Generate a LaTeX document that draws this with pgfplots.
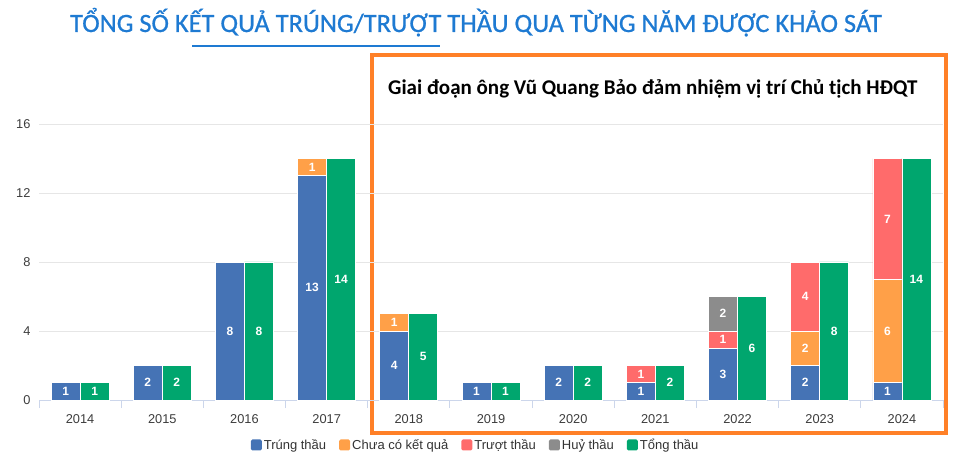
\documentclass[border=0pt]{standalone}
\usepackage{pgfplots}
\pgfplotsset{compat=1.18}
\usepackage{fontspec}
\setmainfont{Liberation Sans}
\newfontfamily\carlito{Carlito}
\newfontfamily\carlitotitle[FakeBold=0.8]{Carlito}
\definecolor{cblue}{RGB}{69,115,181}
\definecolor{corange}{RGB}{255,160,72}
\definecolor{cred}{RGB}{255,107,107}
\definecolor{cgray}{RGB}{140,140,140}
\definecolor{cgreen}{RGB}{0,166,110}
\definecolor{ctitle}{RGB}{30,122,210}
\definecolor{cbox}{RGB}{255,128,39}
\definecolor{cgrid}{RGB}{230,230,230}
\definecolor{caxis}{RGB}{204,214,235}
\definecolor{ctext}{RGB}{60,60,60}
\begin{document}
\begin{tikzpicture}
\useasboundingbox (0,0) rectangle (956pt,469pt);
% titles
\node[anchor=base, text=ctitle, font=\carlitotitle\fontsize{26.4}{28}\selectfont, inner sep=0pt] at (476pt,437pt) {TỔNG SỐ KẾT QUẢ TRÚNG/TRƯỢT THẦU QUA TỪNG NĂM ĐƯỢC KHẢO SÁT};
\draw[ctitle, line width=2.2pt] (192pt,423pt) -- (440pt,423pt);
\draw[cbox, line width=4pt] (372pt,36pt) rectangle (946pt,414pt);
\node[anchor=base west, font=\carlito\bfseries\fontsize{21}{23}\selectfont, inner sep=0pt] at (388pt,374pt) {Giai đoạn ông Vũ Quang Bảo đảm nhiệm vị trí Chủ tịch HĐQT};
\begin{axis}[
  at={(39pt,69pt)}, anchor=south west,
  scale only axis, width=904pt, height=276pt,
  xmin=-0.5, xmax=10.5, ymin=0, ymax=16,
  ybar stacked, bar width=29pt, bar shift=-14.5pt,
  axis lines*=left,
  y axis line style={draw=none},
  x axis line style={caxis, line width=1pt},
  ytick={0,4,8,12,16},
  ymajorgrids, grid style={cgrid, line width=1pt},
  xtick={0,...,10},
  xticklabels={2014,2015,2016,2017,2018,2019,2020,2021,2022,2023,2024},
  minor xtick={-0.5,0.5,...,10.5},
  major tick length=0pt, minor tick length=8pt, tick align=outside,
  minor x tick style={caxis, line width=1pt},
  /pgf/number format/assume math mode=true,
  ticklabel style={font=\fontsize{12.8}{14}\selectfont, text=ctext},
  xticklabel style={yshift=-11pt},
  yticklabel style={xshift=-5pt},
  clip=false,
  legend columns=-1,
  legend style={at={(0.483,-0.163)}, anchor=center, draw=none, fill=none,
    font=\fontsize{13}{15}\selectfont, text=black!80,
    /tikz/every even column/.append style={column sep=11pt}},
  legend image code/.code={\fill[#1, draw=none, rounded corners=1.5pt] (0pt,-5.5pt) rectangle (11pt,5.5pt);},
]
\addplot[fill=cblue, draw=white, line width=0.8pt] coordinates {(0,1) (1,2) (2,8) (3,13) (4,4) (5,1) (6,2) (7,1) (8,3) (9,2) (10,1)};
\addlegendentry{Trúng thầu}
\addplot[fill=corange, draw=white, line width=0.8pt] coordinates {(0,0) (1,0) (2,0) (3,1) (4,1) (5,0) (6,0) (7,0) (8,0) (9,2) (10,6)};
\addlegendentry{Chưa có kết quả}
\addplot[fill=cred, draw=white, line width=0.8pt] coordinates {(0,0) (1,0) (2,0) (3,0) (4,0) (5,0) (6,0) (7,1) (8,1) (9,4) (10,7)};
\addlegendentry{Trượt thầu}
\addplot[fill=cgray, draw=white, line width=0.8pt] coordinates {(0,0) (1,0) (2,0) (3,0) (4,0) (5,0) (6,0) (7,0) (8,2) (9,0) (10,0)};
\addlegendentry{Huỷ thầu}
\addlegendimage{fill=cgreen}
\addlegendentry{Tổng thầu}
\end{axis}
\begin{axis}[
  at={(39pt,69pt)}, anchor=south west,
  scale only axis, width=904pt, height=276pt,
  xmin=-0.5, xmax=10.5, ymin=0, ymax=16,
  hide axis, clip=false,
]
\addplot[ybar, bar width=29pt, bar shift=14.5pt, fill=cgreen, draw=white, line width=0.8pt] coordinates {(0,1) (1,2) (2,8) (3,14) (4,5) (5,1) (6,2) (7,2) (8,6) (9,8) (10,14)};
\addplot[draw=none, mark=none, nodes near coords, point meta=explicit symbolic,
  every node near coord/.append style={anchor=center, text=white, font=\bfseries\fontsize{12}{14}\selectfont, xshift=-14.5pt}]
  table[meta=l] {
x y l
0 0.5 1
1 1 2
2 4 8
3 6.5 13
3 13.5 1
4 2 4
4 4.5 1
5 0.5 1
6 1 2
7 0.5 1
7 1.5 1
8 1.5 3
8 3.5 1
8 5 2
9 1 2
9 3 2
9 6 4
10 0.5 1
10 4 6
10 10.5 7
};
\addplot[draw=none, mark=none, nodes near coords, point meta=explicit symbolic,
  every node near coord/.append style={anchor=center, text=white, font=\bfseries\fontsize{12}{14}\selectfont, xshift=14.5pt}]
  table[meta=l] {
x y l
0 0.5 1
1 1 2
2 4 8
3 7 14
4 2.5 5
5 0.5 1
6 1 2
7 1 2
8 3 6
9 4 8
10 7 14
};
\end{axis}
\end{tikzpicture}
\end{document}
